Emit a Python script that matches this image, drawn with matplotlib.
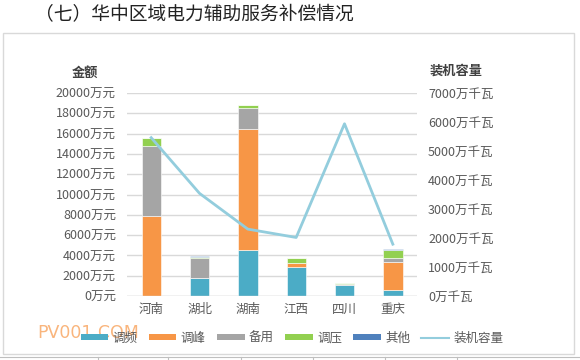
import matplotlib
matplotlib.use("Agg")
import matplotlib.pyplot as plt
from matplotlib.patches import Patch, Rectangle
from matplotlib.lines import Line2D
import numpy as np

plt.rcParams['font.family'] = ['Noto Sans CJK SC', 'DejaVu Sans']

categories = ['河南', '湖北', '湖南', '江西', '四川', '重庆']
tiaopin = [0, 1780, 4515, 2900, 1080, 620]
tiaofeng = [7840, 0, 11895, 330, 30, 2760]
beiyong = [6985, 2010, 2075, 65, 30, 330]
tiaoya = [790, 40, 300, 460, 100, 860]
qita = [0, 70, 0, 0, 80, 100]
capacity = [5460, 3540, 2306, 2018, 5939, 1787]

series_names = ['调频', '调峰', '备用', '调压', '其他']
series_vals = [tiaopin, tiaofeng, beiyong, tiaoya, qita]
colors = ['#4BACC6', '#F79646', '#A5A5A5', '#92D050', '#4F81BD']
line_color = '#93CDDD'
left_ticks = list(range(0, 20001, 2000))
right_ticks = list(range(0, 7001, 1000))

W, H = 580, 360
fig = plt.figure(figsize=(W / 100, H / 100), dpi=100)

# chart frame
fig.patches.append(Rectangle((3 / W, 1 - 354 / H), 571 / W, 321 / H, transform=fig.transFigure,
                             fill=False, edgecolor='#D9D9D9', linewidth=1))
# table border below
fig.add_artist(Line2D([0, 1], [1 - 357 / H, 1 - 357 / H], color='#BFBFBF', linewidth=0.8))
for xv in [98, 168, 241, 313, 385, 457]:
    fig.add_artist(Line2D([xv / W, xv / W], [1 - 357 / H, 0], color='#BFBFBF', linewidth=0.8))

fig.text(35 / W, 1 - 15 / H, '（七）华中区域电力辅助服务补偿情况', fontsize=13.5, color='#222222',
         ha='left', va='center')

ax = fig.add_axes([127 / W, 1 - 296 / H, 290 / W, 203 / H])
x = np.arange(len(categories))
bottom = np.zeros(len(categories))
for name, vals, c in zip(series_names, series_vals, colors):
    v = np.array(vals, dtype=float)
    ax.bar(x, v, bottom=bottom, width=0.4, color=c, edgecolor='white', linewidth=0.4, zorder=3)
    bottom += v

ax.set_ylim(0, 20000)
ax.set_xlim(-0.5, len(categories) - 0.5)
ax.set_yticks(left_ticks)
ax.set_yticklabels([f'{t}万元' for t in left_ticks])
ax.set_xticks(x)
ax.set_xticklabels(categories)
ax.tick_params(axis='y', length=0, pad=8, labelsize=9, labelcolor='#595959')
ax.tick_params(axis='x', length=0, pad=5, labelsize=9, labelcolor='#595959')
ax.grid(axis='y', color='#D9D9D9', linewidth=1, zorder=0)
for s in ax.spines.values():
    s.set_visible(False)
ax.axhline(0, color='#D9D9D9', linewidth=1, zorder=4)

ax2 = ax.twinx()
ax2.plot(x, capacity, color=line_color, linewidth=2, zorder=5)
ax2.set_ylim(0, 7000)
ax2.set_yticks(right_ticks)
ax2.set_yticklabels([f'{t}万千瓦' for t in right_ticks])
ax2.tick_params(axis='y', length=0, pad=8, labelsize=9, labelcolor='#595959')
for s in ax2.spines.values():
    s.set_visible(False)

fig.text(85 / W, 1 - 73 / H, '金额', fontsize=9.5, fontweight='bold', color='#404040', ha='center', va='center')
fig.text(456 / W, 1 - 71 / H, '装机容量', fontsize=9.5, fontweight='bold', color='#404040', ha='center', va='center')

handles = [Patch(facecolor=c, edgecolor='none') for c in colors] + \
          [Line2D([0], [0], color=line_color, linewidth=1.5)]
labels = series_names + ['装机容量']
fig.legend(handles, labels, loc='center', bbox_to_anchor=(292 / W, 1 - 338 / H), ncol=6,
           frameon=False, fontsize=9, handlelength=2.2, handleheight=0.45, columnspacing=0.9,
           handletextpad=0.35, labelcolor='#595959')

fig.text(37 / W, 1 - 333 / H, 'PV001.COM', fontsize=12.5, color='#F79646', alpha=0.7,
         ha='left', va='center', fontfamily='DejaVu Sans')

fig.savefig('out.png', dpi=100)
